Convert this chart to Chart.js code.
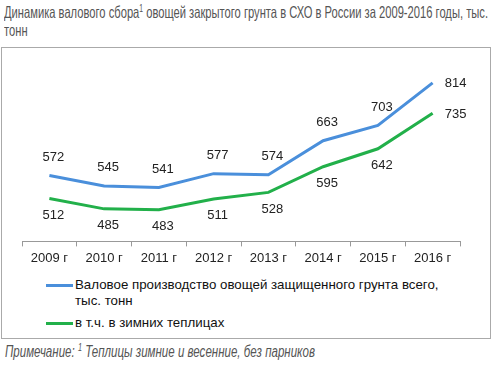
<!DOCTYPE html>
<html>
<head>
<meta charset="utf-8">
<script src="https://cdn.jsdelivr.net/npm/chart.js@4"></script>
<style>
    body { margin: 0; background: #fff; width: 500px; height: 368px; position: relative; overflow: hidden; }
    .narrow {
        position: absolute; white-space: nowrap; transform-origin: 0 0;
        font-family: "Liberation Sans", Arial, sans-serif; color: #555;
    }
    #title { left: 4px; top: 3px; font-size: 16.5px; line-height: 18px; }
    #title sup, #note sup { font-size: 10px; vertical-align: 6px; line-height: 0; }
    #box {
        position: absolute; left: 1px; top: 47px; width: 488px; height: 290px;
        border: 1px solid #aaa;
    }
    #chartWrap { position: absolute; left: 0; top: 0; width: 500px; height: 270px; }
    #legend {
        position: absolute; left: 46px; top: 277px; width: 400px;
        font-family: "Liberation Sans", Arial, sans-serif; font-size: 13.3px; color: #111;
    }
    .item { position: relative; padding-left: 29px; line-height: 16px; margin-bottom: 6px; }
    .item span.swatch { position: absolute; left: 0; top: 7px; width: 27px; height: 3px; }
    #note { left: 5px; top: 343px; font-style: italic; font-size: 16px; }
</style>
</head>
<body>
<div id="title" class="narrow" data-w="484">Динамика валового сбора<sup>1</sup> овощей закрытого грунта в СХО в России за 2009-2016 годы, тыс.<br>тонн</div>
<div id="box"></div>
<div id="chartWrap"><canvas id="chart"></canvas></div>
<div id="legend"></div>
<div id="note" class="narrow" data-w="310">Примечание: <sup>1</sup> Теплицы зимние и весенние, без парников</div>

<script>
// Data
const years = ["2009 г", "2010 г", "2011 г", "2012 г", "2013 г", "2014 г", "2015 г", "2016 г"];
const totalOutput = [572, 545, 541, 577, 574, 663, 703, 814];
const winterOutput = [512, 485, 483, 511, 528, 595, 642, 735];
const seriesNames = ["Валовое производство овощей защищенного грунта всего, тыс. тонн", "в т.ч. в зимних теплицах"];
const seriesColors = ["#4a8fdb", "#22b04a"];

// Squeeze condensed texts to their width in the reference
document.querySelectorAll(".narrow").forEach(el => {
    const w = el.getBoundingClientRect().width;
    el.style.transform = "scaleX(" + (el.dataset.w / w) + ")";
});

// Value labels: blue above, green below, last one to the right
const valueLabels = {
    id: "valueLabels",
    afterDatasetsDraw(chart) {
        const ctx = chart.ctx;
        ctx.save();
        ctx.font = "13px 'Liberation Sans', Arial, sans-serif";
        ctx.fillStyle = "#222";
        ctx.textAlign = "center";
        ctx.textBaseline = "middle";
        chart.data.datasets.forEach((ds, di) => {
            const meta = chart.getDatasetMeta(di);
            meta.data.forEach((pt, i) => {
                let x = pt.x + 4, y = di === 0 ? pt.y - 18 : pt.y + 17;
                if (i === ds.data.length - 1) { x = pt.x + 23; y = pt.y + 1; }
                ctx.fillText(ds.data[i], x, y);
            });
        });
        ctx.restore();
    }
};

const ctx = document.getElementById("chart").getContext("2d");
const chart = new Chart(ctx, {
    type: "line",
    data: {
        labels: years,
        datasets: [
            { label: seriesNames[0], data: totalOutput, borderColor: seriesColors[0], borderWidth: 3, pointRadius: 0, tension: 0 },
            { label: seriesNames[1], data: winterOutput, borderColor: seriesColors[1], borderWidth: 3, pointRadius: 0, tension: 0 }
        ]
    },
    options: {
        responsive: true,
        maintainAspectRatio: false,
        animation: false,
        layout: { padding: { left: 22, right: 40, top: 50, bottom: 0 } },
        plugins: { legend: { display: false }, tooltip: { enabled: false } },
        scales: {
            x: {
                offset: true,
                grid: { offset: true, drawOnChartArea: false, drawTicks: true, tickLength: 5, color: "#999" },
                border: { display: true, color: "#999" },
                ticks: { color: "#222", font: { family: "'Liberation Sans', Arial, sans-serif", size: 13 }, padding: 4, maxRotation: 0 }
            },
            y: { display: false, min: 400, max: 900 }
        }
    },
    plugins: [valueLabels]
});

// HTML legend
const legend = document.getElementById("legend");
chart.data.datasets.forEach(ds => {
    const div = document.createElement("div");
    div.className = "item";
    const sw = document.createElement("span");
    sw.className = "swatch";
    sw.style.background = ds.borderColor;
    div.appendChild(sw);
    div.appendChild(document.createTextNode(ds.label));
    legend.appendChild(div);
});
</script>
</body>
</html>
